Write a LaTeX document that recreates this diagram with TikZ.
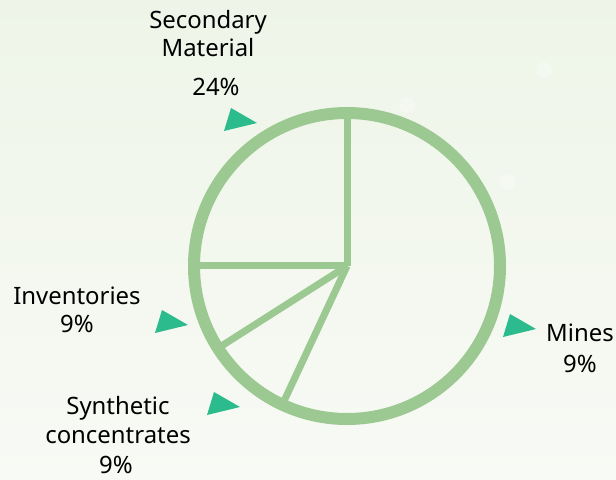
\documentclass[tikz,border=0pt]{standalone}
\usepackage{fontspec}
\setmainfont{Noto Sans}
\definecolor{ringgreen}{RGB}{156,201,146}
\definecolor{pointerteal}{RGB}{44,187,140}
\definecolor{bgtop}{RGB}{238,245,232}
\definecolor{bgbottom}{RGB}{248,250,245}

\begin{document}
\begin{tikzpicture}[x=0.025cm, y=0.025cm,
	label text/.style={align=center, anchor=base, inner sep=0pt, font=\fontsize{17}{20}\selectfont},
	ring/.style={draw=ringgreen, line width=0.3cm},
	spoke/.style={draw=ringgreen, line width=0.175cm},
	pointer/.style={fill=pointerteal}]
	\shade[top color=bgtop, bottom color=bgbottom] (0,0) rectangle (616,479);
	\useasboundingbox (0,0) rectangle (616,479);
	\foreach \c in {(407,374),(507,297),(544,409)}
		\fill[white, opacity=0.3] \c circle (8);

	% pie
	\coordinate (hub) at (347,213);
	\draw[spoke] (hub) -- +(90:153);
	\draw[spoke] (hub) -- +(180:153);
	\draw[spoke] (hub) -- +(212.5:153);
	\draw[spoke] (hub) -- +(245:153);
	\draw[ring] (hub) circle (153);

	% pointers
	\foreach \p in {(224,348),(155,146),(207,64),(503,142)}
		\fill[pointer] \p -- ++(7,23) -- ++(26,-15) -- cycle;

	% labels (base = last line)
	\node[label text] at (208,422) (secondary-name) {Secondary\\Material};
	\node[label text] at (216,383) (secondary-value) {24\%};
	\node[label text] at (77,174) (inventories-name) {Inventories};
	\node[label text] at (77,146) (inventories-value) {9\%};
	\node[label text] at (118,36) (synthetic-name) {Synthetic\\concentrates};
	\node[label text] at (116,6) (synthetic-value) {9\%};
	\node[label text] at (580,137) (mines-name) {Mines};
	\node[label text] at (580,106) (mines-value) {9\%};
\end{tikzpicture}
\end{document}
